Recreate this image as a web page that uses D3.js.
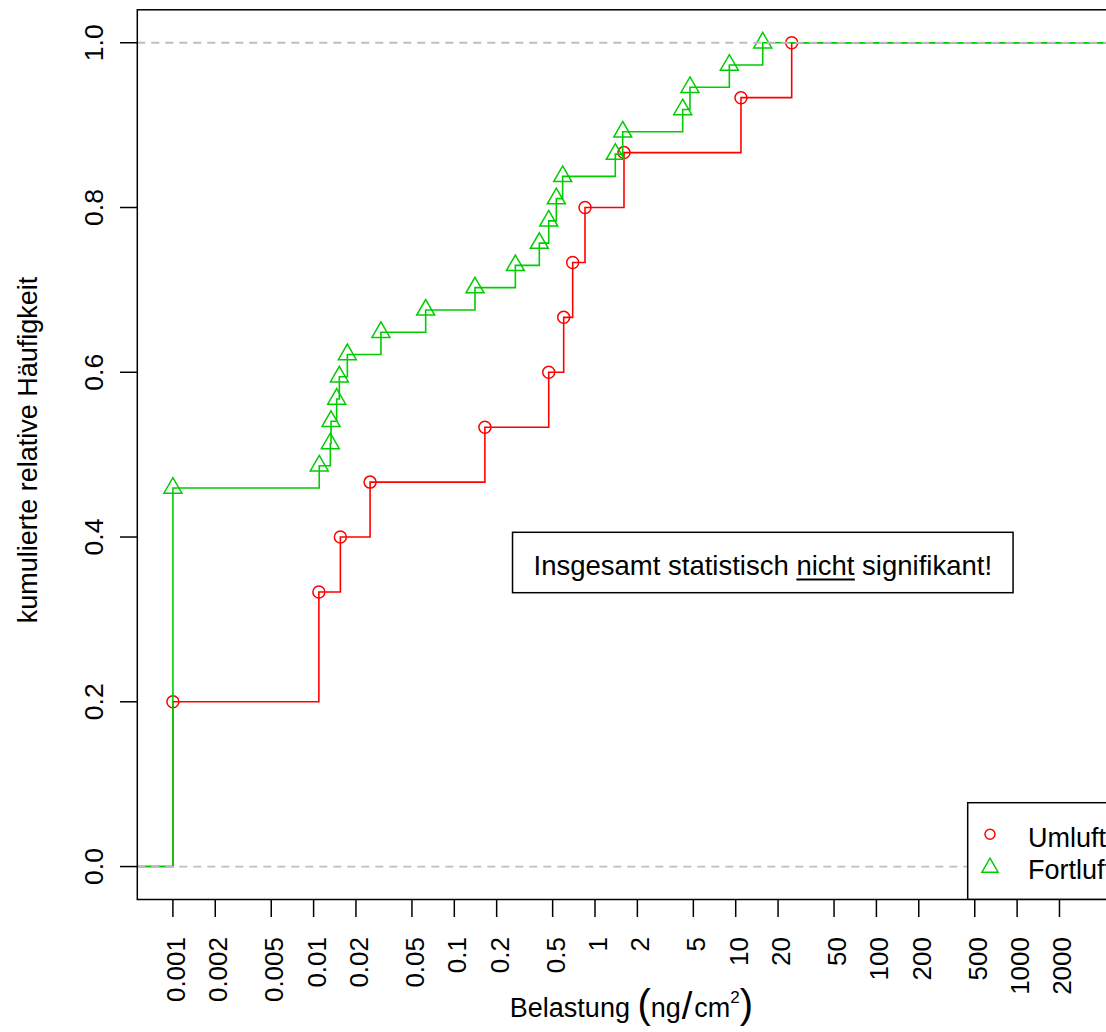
<!DOCTYPE html>
<html><head><meta charset="utf-8">
<script src="https://cdn.jsdelivr.net/npm/d3@7"></script>
<style>
body{margin:0;background:#fff}
svg{display:block}
text{font-family:"Liberation Sans",Arial,Helvetica,sans-serif;fill:#000}
</style>
</head><body>
<svg id="chart" width="1106" height="1032"></svg>
<script>
// ---------------- data ----------------
const seriesNames = ["Umluft", "Fortluft"];
const seriesColors = ["#FF0000", "#00CD00"];
// individual observations (ng/cm²), read from the step heights / positions
const umluft = [0.001, 0.001, 0.001, 0.0109, 0.0109, 0.0155, 0.0252, 0.165, 0.469, 0.599, 0.694, 0.849, 1.607, 10.9, 25.0];
const fortluft = [0.001, 0.001, 0.001, 0.001, 0.001, 0.001, 0.001, 0.001, 0.001, 0.001, 0.001, 0.001, 0.001, 0.001, 0.001, 0.001, 0.001,
  0.01097, 0.01315, 0.0133, 0.01459, 0.01524, 0.01737, 0.0301, 0.0626, 0.1403, 0.2716, 0.402, 0.469, 0.531, 0.589, 1.394, 1.574, 4.20, 4.73, 9.01, 15.56];
const xTicks = [0.001, 0.002, 0.005, 0.01, 0.02, 0.05, 0.1, 0.2, 0.5, 1, 2, 5, 10, 20, 50, 100, 200, 500, 1000, 2000];
const xTickLabels = ["0.001", "0.002", "0.005", "0.01", "0.02", "0.05", "0.1", "0.2", "0.5", "1", "2", "5", "10", "20", "50", "100", "200", "500", "1000", "2000"];
const yTicks = [0, 0.2, 0.4, 0.6, 0.8, 1.0];
const yTickLabels = ["0.0", "0.2", "0.4", "0.6", "0.8", "1.0"];
const refLines = [0, 1];
const yTitle = "kumulierte relative Häufigkeit";
const noteParts = ["Insgesamt statistisch ", "nicht", " signifikant!"];

// ---------------- layout ----------------
const M = {left: 137.3, top: 9.8, right: 1127, bottom: 899.5};
const x = d3.scaleLog().domain([Math.pow(10, -3.253), Math.pow(10, 3.781)]).range([M.left, M.right]);
const y = d3.scaleLinear().domain([-0.04, 1.04]).range([M.bottom, M.top]);

const svg = d3.select("#chart");
svg.append("rect").attr("width", 1106).attr("height", 1032).attr("fill", "#fff");
svg.append("defs").append("clipPath").attr("id", "plotclip")
  .append("rect").attr("x", M.left).attr("y", M.top)
  .attr("width", M.right - M.left).attr("height", M.bottom - M.top);

const plot = svg.append("g").attr("clip-path", "url(#plotclip)");

function ecdf(values) {
  const n = values.length;
  const uniq = Array.from(new Set(values)).sort((a, b) => a - b);
  return uniq.map(v => ({x: v, y: values.filter(d => d <= v).length / n}));
}

const series = [umluft, fortluft].map((vals, i) => ({name: seriesNames[i], color: seriesColors[i], pts: ecdf(vals)}));

const line = d3.line().x(d => x(d.x)).y(d => y(d.y)).curve(d3.curveStepAfter);
const [dx0, dx1] = x.domain();

series.forEach((s, i) => {
  const path = [{x: dx0, y: 0}, ...s.pts, {x: dx1, y: 1}];
  plot.append("path").attr("d", line(path)).attr("fill", "none")
    .attr("stroke", s.color).attr("stroke-width", 1.6);
  const sym = i === 0 ? d3.symbol().type(d3.symbolCircle).size(Math.PI * 36)
                      : d3.symbol().type(d3.symbolTriangle).size(140);
  plot.selectAll(null).data(s.pts).enter().append("path")
    .attr("d", sym)
    .attr("transform", d => `translate(${x(d.x)},${y(d.y)})`)
    .attr("fill", "none").attr("stroke", s.color).attr("stroke-width", 1.5);
});

// reference dashed lines (drawn after the curves)
plot.selectAll(null).data(refLines).enter().append("line")
  .attr("x1", M.left).attr("x2", M.right)
  .attr("y1", d => y(d)).attr("y2", d => y(d))
  .attr("stroke", "#bebebe").attr("stroke-width", 1.8).attr("stroke-dasharray", "8,6");

// ---------------- note box ----------------
const noteG = svg.append("g");
const noteRect = noteG.append("rect").attr("fill", "#fff").attr("stroke", "#000").attr("stroke-width", 1.5);
const noteText = noteG.append("text").attr("x", 762.8).attr("y", 575).attr("text-anchor", "middle")
  .style("font-size", "27.5px");
const tsp = noteParts.map(p => noteText.append("tspan").text(p));
const nb = noteText.node().getBBox();
noteRect.attr("x", nb.x - 21).attr("y", 532.3).attr("width", nb.width + 42).attr("height", 60.4);
const ub = tsp[1].node().getBBox();
noteG.append("line").attr("x1", ub.x).attr("x2", ub.x + ub.width).attr("y1", 579.5).attr("y2", 579.5)
  .attr("stroke", "#000").attr("stroke-width", 2);

// ---------------- legend ----------------
const leg = svg.append("g").attr("clip-path", "url(#plotclip)");
leg.append("rect").attr("x", 967.7).attr("y", 802.7).attr("width", M.right - 967.7).attr("height", M.bottom - 802.7)
  .attr("fill", "#fff").attr("stroke", "#000").attr("stroke-width", 1.5);
const legSyms = [d3.symbol().type(d3.symbolCircle).size(Math.PI * 25), d3.symbol().type(d3.symbolTriangle).size(113)];
const legSymY = [834.3, 867.5];
const legTextY = [846.7, 879.3];
series.forEach((s, i) => {
  leg.append("path").attr("d", legSyms[i]()).attr("transform", `translate(990,${legSymY[i]})`)
    .attr("fill", "none").attr("stroke", s.color).attr("stroke-width", 1.5);
  leg.append("text").attr("x", 1028).attr("y", legTextY[i]).style("font-size", "27px").text(s.name);
});

// ---------------- frame & axes ----------------
svg.append("rect").attr("x", M.left).attr("y", M.top).attr("width", M.right - M.left).attr("height", M.bottom - M.top)
  .attr("fill", "none").attr("stroke", "#000").attr("stroke-width", 1.5);

const xa = svg.append("g");
xa.selectAll(null).data(xTicks).enter().append("line")
  .attr("x1", d => x(d)).attr("x2", d => x(d)).attr("y1", M.bottom).attr("y2", 917)
  .attr("stroke", "#000").attr("stroke-width", 1.5);
xa.selectAll(null).data(xTicks).enter().append("text")
  .attr("transform", d => `translate(${x(d) + 12},937) rotate(-90)`)
  .attr("text-anchor", "end").style("font-size", "26px")
  .text((d, i) => xTickLabels[i]);

const ya = svg.append("g");
ya.selectAll(null).data(yTicks).enter().append("line")
  .attr("x1", 120).attr("x2", M.left).attr("y1", d => y(d)).attr("y2", d => y(d))
  .attr("stroke", "#000").attr("stroke-width", 1.5);
ya.selectAll(null).data(yTicks).enter().append("text")
  .attr("transform", d => `translate(103,${y(d)}) rotate(-90)`)
  .attr("text-anchor", "middle").style("font-size", "26.5px")
  .text((d, i) => yTickLabels[i]);

svg.append("text").attr("transform", "translate(37,450) rotate(-90)")
  .attr("text-anchor", "middle").style("font-size", "27px").text(yTitle);

// x title with plotmath-like unit (relative dy so the whole title is one anchored chunk)
const xt = svg.append("text").attr("x", 631.5).attr("y", 1017).attr("text-anchor", "middle").style("font-size", "27px");
xt.append("tspan").text("Belastung ");
xt.append("tspan").attr("dy", 1).style("font-size", "40px").text("(");
xt.append("tspan").attr("dy", -1).text("ng");
xt.append("tspan").attr("dy", 2).attr("dx", 1).style("font-size", "38px").text("/");
xt.append("tspan").attr("dy", -2).attr("dx", 2).text("cm");
xt.append("tspan").attr("dy", -14).style("font-size", "17px").text("2");
xt.append("tspan").attr("dy", 15).style("font-size", "40px").text(")");
</script>
</body></html>
